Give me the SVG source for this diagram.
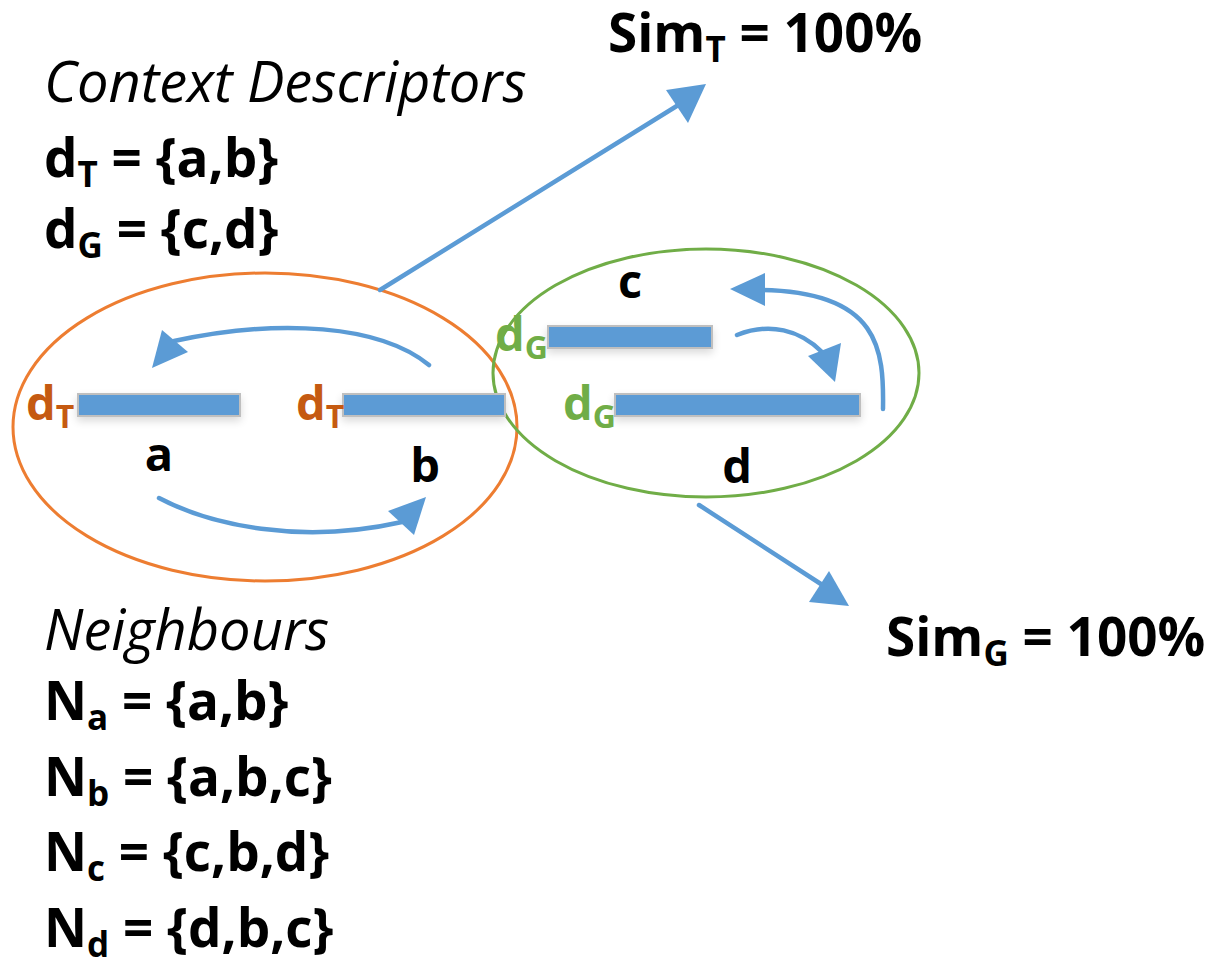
<svg xmlns="http://www.w3.org/2000/svg" width="1211" height="960" viewBox="0 0 1211 960">
  <style>
    .t { font-family: "Open Sans", "Noto Sans", sans-serif; font-size: 53px; fill: #000; }
    .b { font-weight: bold; }
    .i { font-style: italic; font-size: 56px; }
    .sub { font-size: 35px; }
    .bar { fill: #5B9BD5; stroke: #BFBFBF; stroke-width: 2; filter: url(#sh); }
    .lbl { font-family: "Open Sans", "Noto Sans", sans-serif; font-weight: bold; font-size: 47px; }
    .lsub { font-size: 32px; }
    .dT { fill: #C55A11; }
    .dG { fill: #70AD47; }
    .conn { fill: none; stroke: #5B9BD5; stroke-width: 4.5; stroke-linecap: round; }
    .head { fill: #5B9BD5; }
  </style>
  <defs>
    <filter id="sh" x="-10%" y="-50%" width="120%" height="250%">
      <feGaussianBlur in="SourceAlpha" stdDeviation="4"/>
      <feOffset dy="4"/>
      <feComponentTransfer><feFuncA type="linear" slope="0.15"/></feComponentTransfer>
      <feMerge><feMergeNode/><feMergeNode in="SourceGraphic"/></feMerge>
    </filter>
  </defs>

  <rect width="1211" height="960" fill="#fff"/>

  <!-- descriptor legend -->
  <g id="legend-descriptors">
    <text class="t i" x="44" y="102">Context Descriptors</text>
    <text class="t b" x="44" y="177">d<tspan class="sub" dy="10">T</tspan><tspan dy="-10"> = {a,b}</tspan></text>
    <text class="t b" x="44" y="248">d<tspan class="sub" dy="10">G</tspan><tspan dy="-10"> = {c,d}</tspan></text>
  </g>

  <!-- neighbour legend -->
  <g id="legend-neighbours">
    <text class="t i" x="44" y="650">Neighbours</text>
    <text class="t b" x="44" y="720">N<tspan class="sub" dy="10">a</tspan><tspan dy="-10"> = {a,b}</tspan></text>
    <text class="t b" x="44" y="796">N<tspan class="sub" dy="10">b</tspan><tspan dy="-10"> = {a,b,c}</tspan></text>
    <text class="t b" x="44" y="871">N<tspan class="sub" dy="10">c</tspan><tspan dy="-10"> = {c,b,d}</tspan></text>
    <text class="t b" x="44" y="947">N<tspan class="sub" dy="10">d</tspan><tspan dy="-10"> = {d,b,c}</tspan></text>
  </g>

  <!-- similarity results -->
  <g id="sim-t">
    <text class="t b" x="608" y="52">Sim<tspan class="sub" dy="10">T</tspan><tspan dy="-10"> = 100%</tspan></text>
  </g>
  <g id="sim-g">
    <text class="t b" x="886" y="656">Sim<tspan class="sub" dy="10">G</tspan><tspan dy="-10"> = 100%</tspan></text>
  </g>

  <!-- context groups -->
  <g id="group-t">
    <ellipse cx="265" cy="427" rx="252" ry="154" fill="none" stroke="#ED7D31" stroke-width="3"/>
  </g>
  <g id="group-g">
    <ellipse cx="706" cy="373" rx="213" ry="124" fill="none" stroke="#70AD47" stroke-width="3"/>
  </g>

  <!-- segments -->
  <g id="seg-a">
    <rect class="bar" x="78" y="394" width="162" height="22"/>
    <text class="lbl dT" x="26" y="420">d<tspan class="lsub" dy="8">T</tspan></text>
    <text class="lbl" x="159" y="471" text-anchor="middle">a</text>
  </g>
  <g id="seg-b">
    <rect class="bar" x="343" y="394" width="162" height="22"/>
    <text class="lbl dT" x="296" y="420">d<tspan class="lsub" dy="8">T</tspan></text>
    <text class="lbl" x="425" y="482" text-anchor="middle">b</text>
  </g>
  <g id="seg-c">
    <rect class="bar" x="548" y="326" width="164" height="22"/>
    <text class="lbl dG" x="495" y="351">d<tspan class="lsub" dy="8">G</tspan></text>
    <text class="lbl" x="630" y="298" text-anchor="middle">c</text>
  </g>
  <g id="seg-d">
    <rect class="bar" x="615" y="394" width="245" height="22"/>
    <text class="lbl dG" x="563" y="420">d<tspan class="lsub" dy="8">G</tspan></text>
    <text class="lbl" x="737" y="483" text-anchor="middle">d</text>
  </g>

  <!-- connectors -->
  <g id="connectors">
    <!-- a to b -->
    <path class="conn" d="M159,498 C210,525 300,545 402,522"/>
    <polygon class="head" points="426,497 414,535 388,511"/>
    <!-- b to a -->
    <path class="conn" d="M429,365 C380,325 280,318 174,341"/>
    <polygon class="head" points="152,368 162,330 188,352"/>
    <!-- c to d -->
    <path class="conn" d="M737,335 C770,322 800,330 822,352"/>
    <polygon class="head" points="835,382 808,356 841,343"/>
    <!-- d to c -->
    <path class="conn" d="M883,409 C884,350 880,292 762,290"/>
    <polygon class="head" points="730,289 765,273 765,306"/>
    <!-- group T to its similarity -->
    <path class="conn" d="M380,290 L680,104"/>
    <polygon class="head" points="706,84 666,90 688,123"/>
    <!-- group G to its similarity -->
    <path class="conn" d="M699,505 L824,586"/>
    <polygon class="head" points="849,606 809,602 829,571"/>
  </g>
</svg>
